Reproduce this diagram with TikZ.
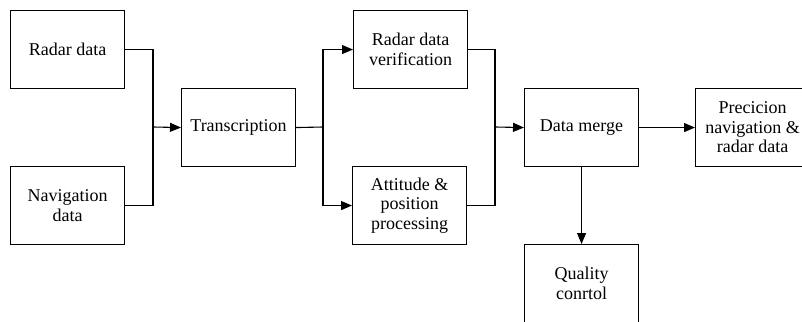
\documentclass[tikz,border=0pt]{standalone}
\usepackage{fontspec}
\setmainfont{Liberation Serif}
\usetikzlibrary{arrows.meta}
\begin{document}
\begin{tikzpicture}[x=1pt,y=-1pt,
  blk/.style={draw, line width=1.1pt, minimum width=114pt, minimum height=78pt,
    align=center, inner sep=2pt, font=\fontsize{18}{19.5}\selectfont, anchor=north west},
  wire/.style={line width=1.1pt},
  arr/.style={wire, -{Triangle[length=11pt,width=9pt]}}]
\useasboundingbox (0,0) rectangle (802,321);
\clip (0,0) rectangle (802,321);
% boxes
\node[blk] (radar) at (10,10) {Radar data};
\node[blk] (nav)   at (10,166) {Navigation\\data};
\node[blk] (trans) at (181,88) {Transcription};
\node[blk] (rdv)   at (353,10) {Radar data\\verification};
\node[blk] (att)   at (352,166) {Attitude \&\\position\\processing};
\node[blk] (merge) at (524,88) {Data merge};
\node[blk] (prec)  at (695,88) {Precicion\\navigation \&\\radar data};
\node[blk] (qc)    at (524,244) {Quality\\conrtol};
% junction points
\coordinate (j1) at (153,127);
\coordinate (j2) at (323,127);
\coordinate (j3) at (495,127);
% inputs to transcription
\draw[wire] (radar.east) -| (j1);
\draw[wire] (nav.east) -| (j1);
\draw[arr] (j1) -- (trans.west);
% transcription splits
\draw[wire] (trans.east) -- (j2);
\draw[arr] (j2) |- (rdv.west);
\draw[arr] (j2) |- (att.west);
% processing to merge
\draw[wire] (rdv.east) -| (j3);
\draw[wire] (att.east) -| (j3);
\draw[arr] (j3) -- (merge.west);
% outputs
\draw[arr] (merge.east) -- (prec.west);
\draw[arr] (merge.south) -- (qc.north);
\end{tikzpicture}
\end{document}
